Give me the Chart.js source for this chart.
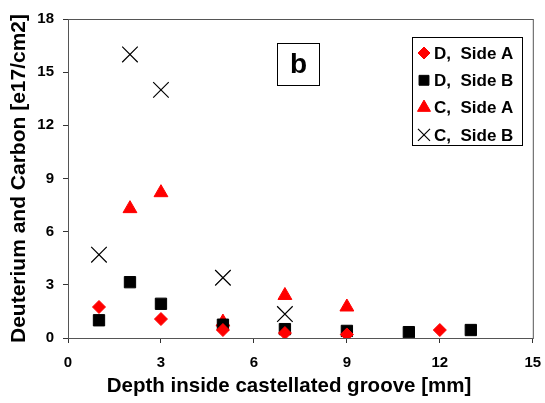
<!DOCTYPE html>
<html>
<head>
<meta charset="utf-8">
<script src="https://cdn.jsdelivr.net/npm/chart.js@4"></script>
<style>
  html, body { margin: 0; padding: 0; background: #fff; }
  #wrap { width: 545px; height: 403px; }
</style>
</head>
<body>
<div id="wrap"><canvas id="chart" width="545" height="403"></canvas></div>
<script>
// depth [mm] and values [e17/cm2]
const dSideAX = [1, 3, 5, 7, 9, 12];
const dSideAY = [1.75, 1.07, 0.45, 0.28, 0.2, 0.45];
const dSideBX = [1, 2, 3, 5, 7, 9, 11, 13];
const dSideBY = [1.0, 3.15, 1.93, 0.75, 0.5, 0.4, 0.33, 0.45];
const cSideAX = [2, 3, 5, 7, 9];
const cSideAY = [7.3, 8.2, 0.9, 2.4, 1.75];
const cSideBX = [1, 2, 3, 5, 7];
const cSideBY = [4.7, 16.0, 14.0, 3.4, 1.35];

const seriesNames = ['D,  Side A', 'D,  Side B', 'C,  Side A', 'C,  Side B'];
const xTicks = [0, 3, 6, 9, 12, 15];
const yTicks = [0, 3, 6, 9, 12, 15, 18];
const panelLabel = 'b';
const xTitle = 'Depth inside castellated groove [mm]';
const yTitle = 'Deuterium and Carbon [e17/cm2]';

const FONT = '"Liberation Sans", Arial, sans-serif';

const toPoints = (xs, ys) => xs.map((x, i) => ({ x: x, y: ys[i] }));

// 凡例のマーカーサイズ
const legendRadius = [6, 7, 7.5, 8.5];

// 凡例と "b" の枠、x軸タイトルを描く
const overlayPlugin = {
    id: 'overlay',
    afterDraw(chart) {
        const ctx = chart.ctx;
        const area = chart.chartArea;
        ctx.save();

        // frame
        ctx.strokeStyle = '#555';
        ctx.lineWidth = 1;
        ctx.strokeRect(area.left + 0.5, area.top + 0.5, area.right - area.left, area.bottom - area.top);

        // x axis title (中央より少し左寄り)
        ctx.fillStyle = '#000';
        ctx.font = 'bold 20.5px ' + FONT;
        ctx.textAlign = 'center';
        ctx.textBaseline = 'middle';
        ctx.fillText(xTitle, 289, 386);

        // panel label
        ctx.fillStyle = '#fff';
        ctx.fillRect(277, 43, 42, 42);
        ctx.strokeStyle = '#000';
        ctx.strokeRect(277.5, 43.5, 42, 42);
        ctx.fillStyle = '#000';
        ctx.font = 'bold 28px ' + FONT;
        ctx.fillText(panelLabel, 298.5, 65);

        // legend
        ctx.fillStyle = '#fff';
        ctx.fillRect(412, 37, 110, 108);
        ctx.strokeStyle = '#000';
        ctx.strokeRect(412.5, 37.5, 110, 108);
        ctx.font = 'bold 17px ' + FONT;
        ctx.textAlign = 'left';
        chart.data.datasets.forEach((ds, i) => {
            const y = 53 + i * 27.3;
            const style = {
                pointStyle: ds.pointStyle,
                radius: legendRadius[i],
                rotation: 0,
                borderWidth: ds.borderWidth,
            };
            ctx.fillStyle = ds.backgroundColor;
            ctx.strokeStyle = ds.borderColor;
            ctx.lineWidth = ds.borderWidth;
            Chart.helpers.drawPoint(ctx, style, 424, y);
            ctx.fillStyle = '#000';
            ctx.fillText(ds.label, 434, y + 1);
        });
        ctx.restore();
    }
};

new Chart(document.getElementById('chart'), {
    type: 'scatter',
    data: {
        datasets: [
            {
                label: seriesNames[0],
                data: toPoints(dSideAX, dSideAY),
                pointStyle: 'rectRot',
                pointRadius: 6.5,
                backgroundColor: '#ff0000',
                borderColor: '#ff0000',
                borderWidth: 1,
            },
            {
                label: seriesNames[1],
                data: toPoints(dSideBX, dSideBY),
                pointStyle: 'rect',
                pointRadius: 8,
                backgroundColor: '#000000',
                borderColor: '#000000',
                borderWidth: 1,
            },
            {
                label: seriesNames[2],
                data: toPoints(cSideAX, cSideAY),
                pointStyle: 'triangle',
                pointRadius: 8,
                backgroundColor: '#ff0000',
                borderColor: '#ff0000',
                borderWidth: 1,
            },
            {
                label: seriesNames[3],
                data: toPoints(cSideBX, cSideBY),
                pointStyle: 'crossRot',
                pointRadius: 11,
                backgroundColor: '#000000',
                borderColor: '#000000',
                borderWidth: 1.2,
            },
        ],
    },
    options: {
        responsive: false,
        animation: false,
        layout: { padding: { top: 19, right: 8, left: 0, bottom: 0 } },
        plugins: {
            legend: { display: false },
            tooltip: { enabled: false },
        },
        scales: {
            x: {
                type: 'linear',
                min: 0,
                max: 15,
                afterBuildTicks: scale => { scale.ticks = xTicks.map(v => ({ value: v })); },
                afterFit: scale => {
                    scale.height = 65;
                    scale.paddingLeft = 0;
                    scale.paddingRight = 0;
                },
                grid: { drawOnChartArea: false, tickLength: 5, color: '#333' },
                border: { color: '#333' },
                ticks: {
                    color: '#000',
                    padding: 11,
                    maxRotation: 0,
                    font: { family: FONT, size: 15, weight: 'bold' },
                },
                title: { display: false },
            },
            y: {
                type: 'linear',
                min: 0,
                max: 18,
                afterBuildTicks: scale => { scale.ticks = yTicks.map(v => ({ value: v })); },
                afterFit: scale => { scale.width = 68; },
                grid: { drawOnChartArea: false, tickLength: 5, color: '#333' },
                border: { color: '#333' },
                ticks: {
                    color: '#000',
                    padding: 9,
                    font: { family: FONT, size: 15, weight: 'bold' },
                },
                title: {
                    display: true,
                    text: yTitle,
                    color: '#000',
                    padding: { bottom: 0, top: 7 },
                    font: { family: FONT, size: 21, weight: 'bold' },
                },
            },
        },
    },
    plugins: [overlayPlugin],
});
</script>
</body>
</html>
